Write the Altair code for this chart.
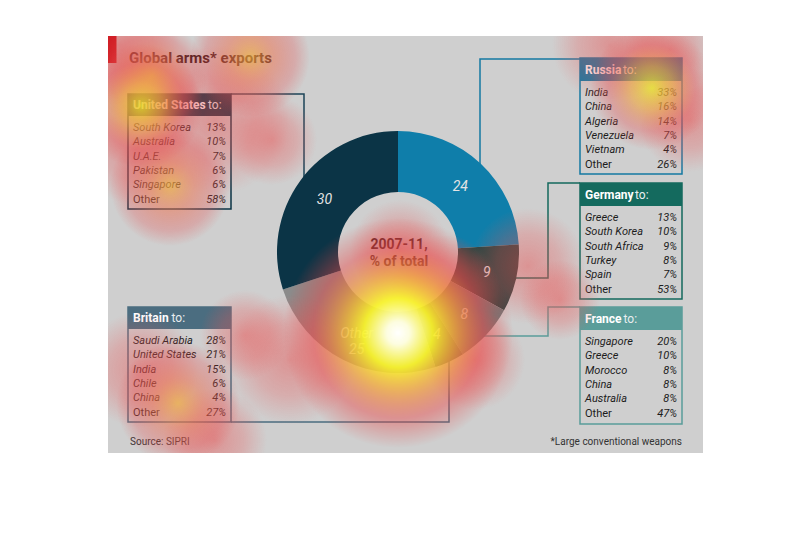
import altair as alt
import pandas as pd

# ---------------- data ----------------
exporters = ["Russia", "Germany", "France", "Britain", "Other", "United States"]
shares = [24, 9, 8, 4, 25, 30]
seg_labels = ["24", "9", "8", "4", "Other\n25", "30"]
seg_colors = ["#0f7eaa", "#2a4542", "#6c7a7a", "#4e5a61", "#8b8b8b", "#0b3446"]

us_countries = ["South Korea", "Australia", "U.A.E.", "Pakistan", "Singapore", "Other"]
us_pcts = [13, 10, 7, 6, 6, 58]
russia_countries = ["India", "China", "Algeria", "Venezuela", "Vietnam", "Other"]
russia_pcts = [33, 16, 14, 7, 4, 26]
germany_countries = ["Greece", "South Korea", "South Africa", "Turkey", "Spain", "Other"]
germany_pcts = [13, 10, 9, 8, 7, 53]
france_countries = ["Singapore", "Greece", "Morocco", "China", "Australia", "Other"]
france_pcts = [20, 10, 8, 8, 8, 47]
britain_countries = ["Saudi Arabia", "United States", "India", "Chile", "China", "Other"]
britain_pcts = [28, 21, 15, 6, 4, 27]

# ---------------- layout (image pixel frame) ----------------
box_names = ["United States", "Russia", "Germany", "France", "Britain"]
box_left = [128, 580, 580, 580, 128]
box_right = [231, 682, 682, 682, 231]
box_top = [94, 58, 183, 307, 307]
box_hbottom = [116, 81, 206, 330, 329]
box_bottom = [209, 174, 299, 424, 422]
box_colors = ["#0b3446", "#1479a3", "#146a5e", "#5a9d9a", "#4b6d80"]
box_to_x = [208, 623, 635, 623.5, 171.5]
box_rows = [(us_countries, us_pcts), (russia_countries, russia_pcts),
            (germany_countries, germany_pcts), (france_countries, france_pcts),
            (britain_countries, britain_pcts)]

# connector polylines
conn_id = ["us"] * 3 + ["ru"] * 3 + ["de"] * 4 + ["fr"] * 4 + ["gb"] * 3
conn_x = [231, 304, 304, 580, 480, 480, 580, 548, 548, 480, 580, 548, 548, 470, 231, 449, 449]
conn_y = [94, 94, 200, 59, 59, 200, 183, 183, 278, 278, 307, 307, 336, 336, 422, 422, 340]
conn_col = {"us": "#1d4458", "ru": "#1479a3", "de": "#146a5e", "fr": "#5a9d9a", "gb": "#4b6d80"}

# eye-tracking heat spots: x, y, radius, kind
heat_x = [398, 141, 652, 152, 250, 170, 178,
          120, 215, 272, 135, 290, 245, 528, 610, 690, 670, 140, 215, 445, 400, 560, 475]
heat_y = [333, 106, 88, 76, 57, 186, 403,
          45, 120, 140, 150, 360, 335, 266, 45, 120, 50, 370, 440, 290, 250, 300, 360]
heat_r = [115, 62, 62, 55, 60, 60, 62,
          60, 75, 45, 55, 65, 45, 58, 58, 52, 45, 58, 52, 55, 50, 40, 50]
heat_kind = ["hot", "yellow", "yellow", "warm", "warm", "warm", "warm"] + ["red"] * 16

FONT = "Roboto, sans-serif"
BG = "#cfcfcf"

xs = alt.Scale(domain=[108, 703], nice=False, zero=False)
ys = alt.Scale(domain=[36, 453], nice=False, zero=False, reverse=True)

def X(f):
    return alt.X(f, type="quantitative", scale=xs, axis=None)

def Y(f):
    return alt.Y(f, type="quantitative", scale=ys, axis=None)

# ---------------- frames ----------------
boxes = pd.DataFrame({
    "exporter": box_names, "left": box_left, "right": box_right, "top": box_top,
    "hbottom": box_hbottom, "bottom": box_bottom, "color": box_colors, "to_x": box_to_x,
})
boxes["tx"] = boxes["left"] + 5
boxes["ty"] = (boxes["top"] + boxes["hbottom"]) / 2

rows = []
for i, (cs, ps) in enumerate(box_rows):
    for j, (c, p) in enumerate(zip(cs, ps)):
        rows.append({
            "country": c, "pct": f"{p}%",
            "xl": box_left[i] + 5, "xr": box_right[i] - 5,
            "y": box_hbottom[i] + 12 + j * 14.3,
            "other": c == "Other",
        })
rows = pd.DataFrame(rows)

conns = pd.DataFrame({"id": conn_id, "x": conn_x, "y": conn_y,
                      "color": [conn_col[c] for c in conn_id],
                      "ord": list(range(len(conn_x)))})

seg = pd.DataFrame({"exporter": exporters, "share": shares, "label": seg_labels,
                    "color": seg_colors, "ord": list(range(len(shares)))})

heat = pd.DataFrame({"x": heat_x, "y": heat_y, "size": [(2 * r) ** 2 for r in heat_r],
                     "kind": heat_kind})

# ---------------- layers ----------------
lines = alt.Chart(conns).mark_line(strokeWidth=1.5).encode(
    x=X("x"), y=Y("y"), detail="id:N", order="ord:Q",
    color=alt.Color("color:N", scale=None))

box_outline = alt.Chart(boxes).mark_rect(fillOpacity=0, strokeWidth=1.5).encode(
    x=X("left"), x2="right", y=Y("top"), y2="bottom",
    stroke=alt.Stroke("color:N", scale=None))

box_head = alt.Chart(boxes).mark_rect().encode(
    x=X("left"), x2="right", y=Y("top"), y2="hbottom",
    color=alt.Color("color:N", scale=None))

head_name = alt.Chart(boxes).mark_text(align="left", baseline="middle", font=FONT,
                                       fontSize=12, fontWeight="bold", color="white").encode(
    x=X("tx"), y=Y("ty"), text="exporter:N")
head_to = alt.Chart(boxes).mark_text(align="left", baseline="middle", font=FONT,
                                     fontSize=12, color="#e8eef0").encode(
    x=X("to_x"), y=Y("ty"), text=alt.value("to:"))

row_names_it = alt.Chart(rows).transform_filter("!datum.other").mark_text(
    align="left", baseline="middle", font=FONT, fontSize=11, fontStyle="italic",
    color="#1c1c1c").encode(x=X("xl"), y=Y("y"), text="country:N")
row_names_up = alt.Chart(rows).transform_filter("datum.other").mark_text(
    align="left", baseline="middle", font=FONT, fontSize=11,
    color="#1c1c1c").encode(x=X("xl"), y=Y("y"), text="country:N")
row_pcts = alt.Chart(rows).mark_text(
    align="right", baseline="middle", font=FONT, fontSize=11, fontStyle="italic",
    color="#1c1c1c").encode(x=X("xr"), y=Y("y"), text="pct:N")

donut = alt.Chart(seg).mark_arc(innerRadius=60, outerRadius=121).encode(
    theta=alt.Theta("share:Q", stack=True),
    order=alt.Order("ord:Q"),
    color=alt.Color("color:N", scale=None),
    x=alt.value(290), y=alt.value(216))

seg_text = alt.Chart(seg).mark_text(radius=91, font=FONT, fontSize=14, fontStyle="italic",
                                    color="#e4e4e4", lineBreak="\n").encode(
    theta=alt.Theta("share:Q", stack=True),
    order=alt.Order("ord:Q"),
    text="label:N",
    x=alt.value(290), y=alt.value(217))

center_df = pd.DataFrame({"t": ["2007-11,", "% of total"], "x": [399, 399], "y": [245, 262]})
center = alt.Chart(center_df).mark_text(font=FONT, fontSize=14, fontWeight="bold",
                                        color="#2a1414", baseline="middle").encode(
    x=X("x"), y=Y("y"), text="t:N")

notes_df = pd.DataFrame({"t": ["Global arms* exports"], "x": [129], "y": [63]})
title = alt.Chart(notes_df).mark_text(font=FONT, fontSize=15, fontWeight="bold", align="left",
                                      baseline="alphabetic", color="#2a1414").encode(
    x=X("x"), y=Y("y"), text="t:N")

redbar_df = pd.DataFrame({"x": [108], "x2": [116.5], "y": [36], "y2": [63]})
redbar = alt.Chart(redbar_df).mark_rect(color="#c0000b").encode(
    x=X("x"), x2="x2", y=Y("y"), y2="y2")

src_df = pd.DataFrame({"t": ["Source: SIPRI"], "x": [130], "y": [442]})
source = alt.Chart(src_df).mark_text(font=FONT, fontSize=10, align="left", baseline="middle",
                                     color="#333333").encode(x=X("x"), y=Y("y"), text="t:N")
fn_df = pd.DataFrame({"t": ["*Large conventional weapons"], "x": [682], "y": [442]})
footnote = alt.Chart(fn_df).mark_text(font=FONT, fontSize=10, align="right", baseline="middle",
                                      color="#333333").encode(x=X("x"), y=Y("y"), text="t:N")

def radial(stops):
    return {"gradient": "radial", "x1": 0.5, "y1": 0.5, "r1": 0,
            "x2": 0.5, "y2": 0.5, "r2": 0.5,
            "stops": [{"offset": o, "color": c} for o, c in stops]}

grads = {
    "hot": radial([(0, "rgba(255,255,255,1)"), (0.1, "rgba(255,255,225,0.98)"),
                   (0.3, "rgba(250,245,40,0.92)"), (0.5, "rgba(245,165,50,0.72)"),
                   (0.74, "rgba(235,70,70,0.45)"), (1, "rgba(230,60,60,0)")]),
    "yellow": radial([(0, "rgba(235,225,40,0.82)"), (0.35, "rgba(240,165,60,0.62)"),
                      (0.7, "rgba(232,80,80,0.35)"), (1, "rgba(230,70,70,0)")]),
    "warm": radial([(0, "rgba(240,170,60,0.72)"), (0.4, "rgba(238,110,75,0.5)"),
                    (0.75, "rgba(232,75,75,0.28)"), (1, "rgba(230,70,70,0)")]),
    "red": radial([(0, "rgba(235,75,75,0.45)"), (0.55, "rgba(235,85,85,0.28)"),
                   (1, "rgba(235,90,90,0)")]),
}

heat_layers = []
for k in ["red", "warm", "yellow", "hot"]:
    heat_layers.append(
        alt.Chart(heat).transform_filter(alt.datum.kind == k).mark_circle(
            fill=grads[k], opacity=1, strokeWidth=0, clip=True).encode(
            x=X("x"), y=Y("y"), size=alt.Size("size:Q", scale=None)))

chart = alt.layer(
    lines, box_outline, box_head, head_name, head_to,
    row_names_it, row_names_up, row_pcts,
    donut, seg_text, center, redbar, title, source, footnote,
    *heat_layers,
).properties(
    width=595, height=417,
    padding={"left": 100, "top": 28, "right": 0, "bottom": 0},
    autosize=alt.AutoSizeParams(type="none"),
    background="white",
).configure_view(fill=BG, strokeWidth=0)

chart.save("out.html", embed_options={"renderer": "svg", "actions": False})
